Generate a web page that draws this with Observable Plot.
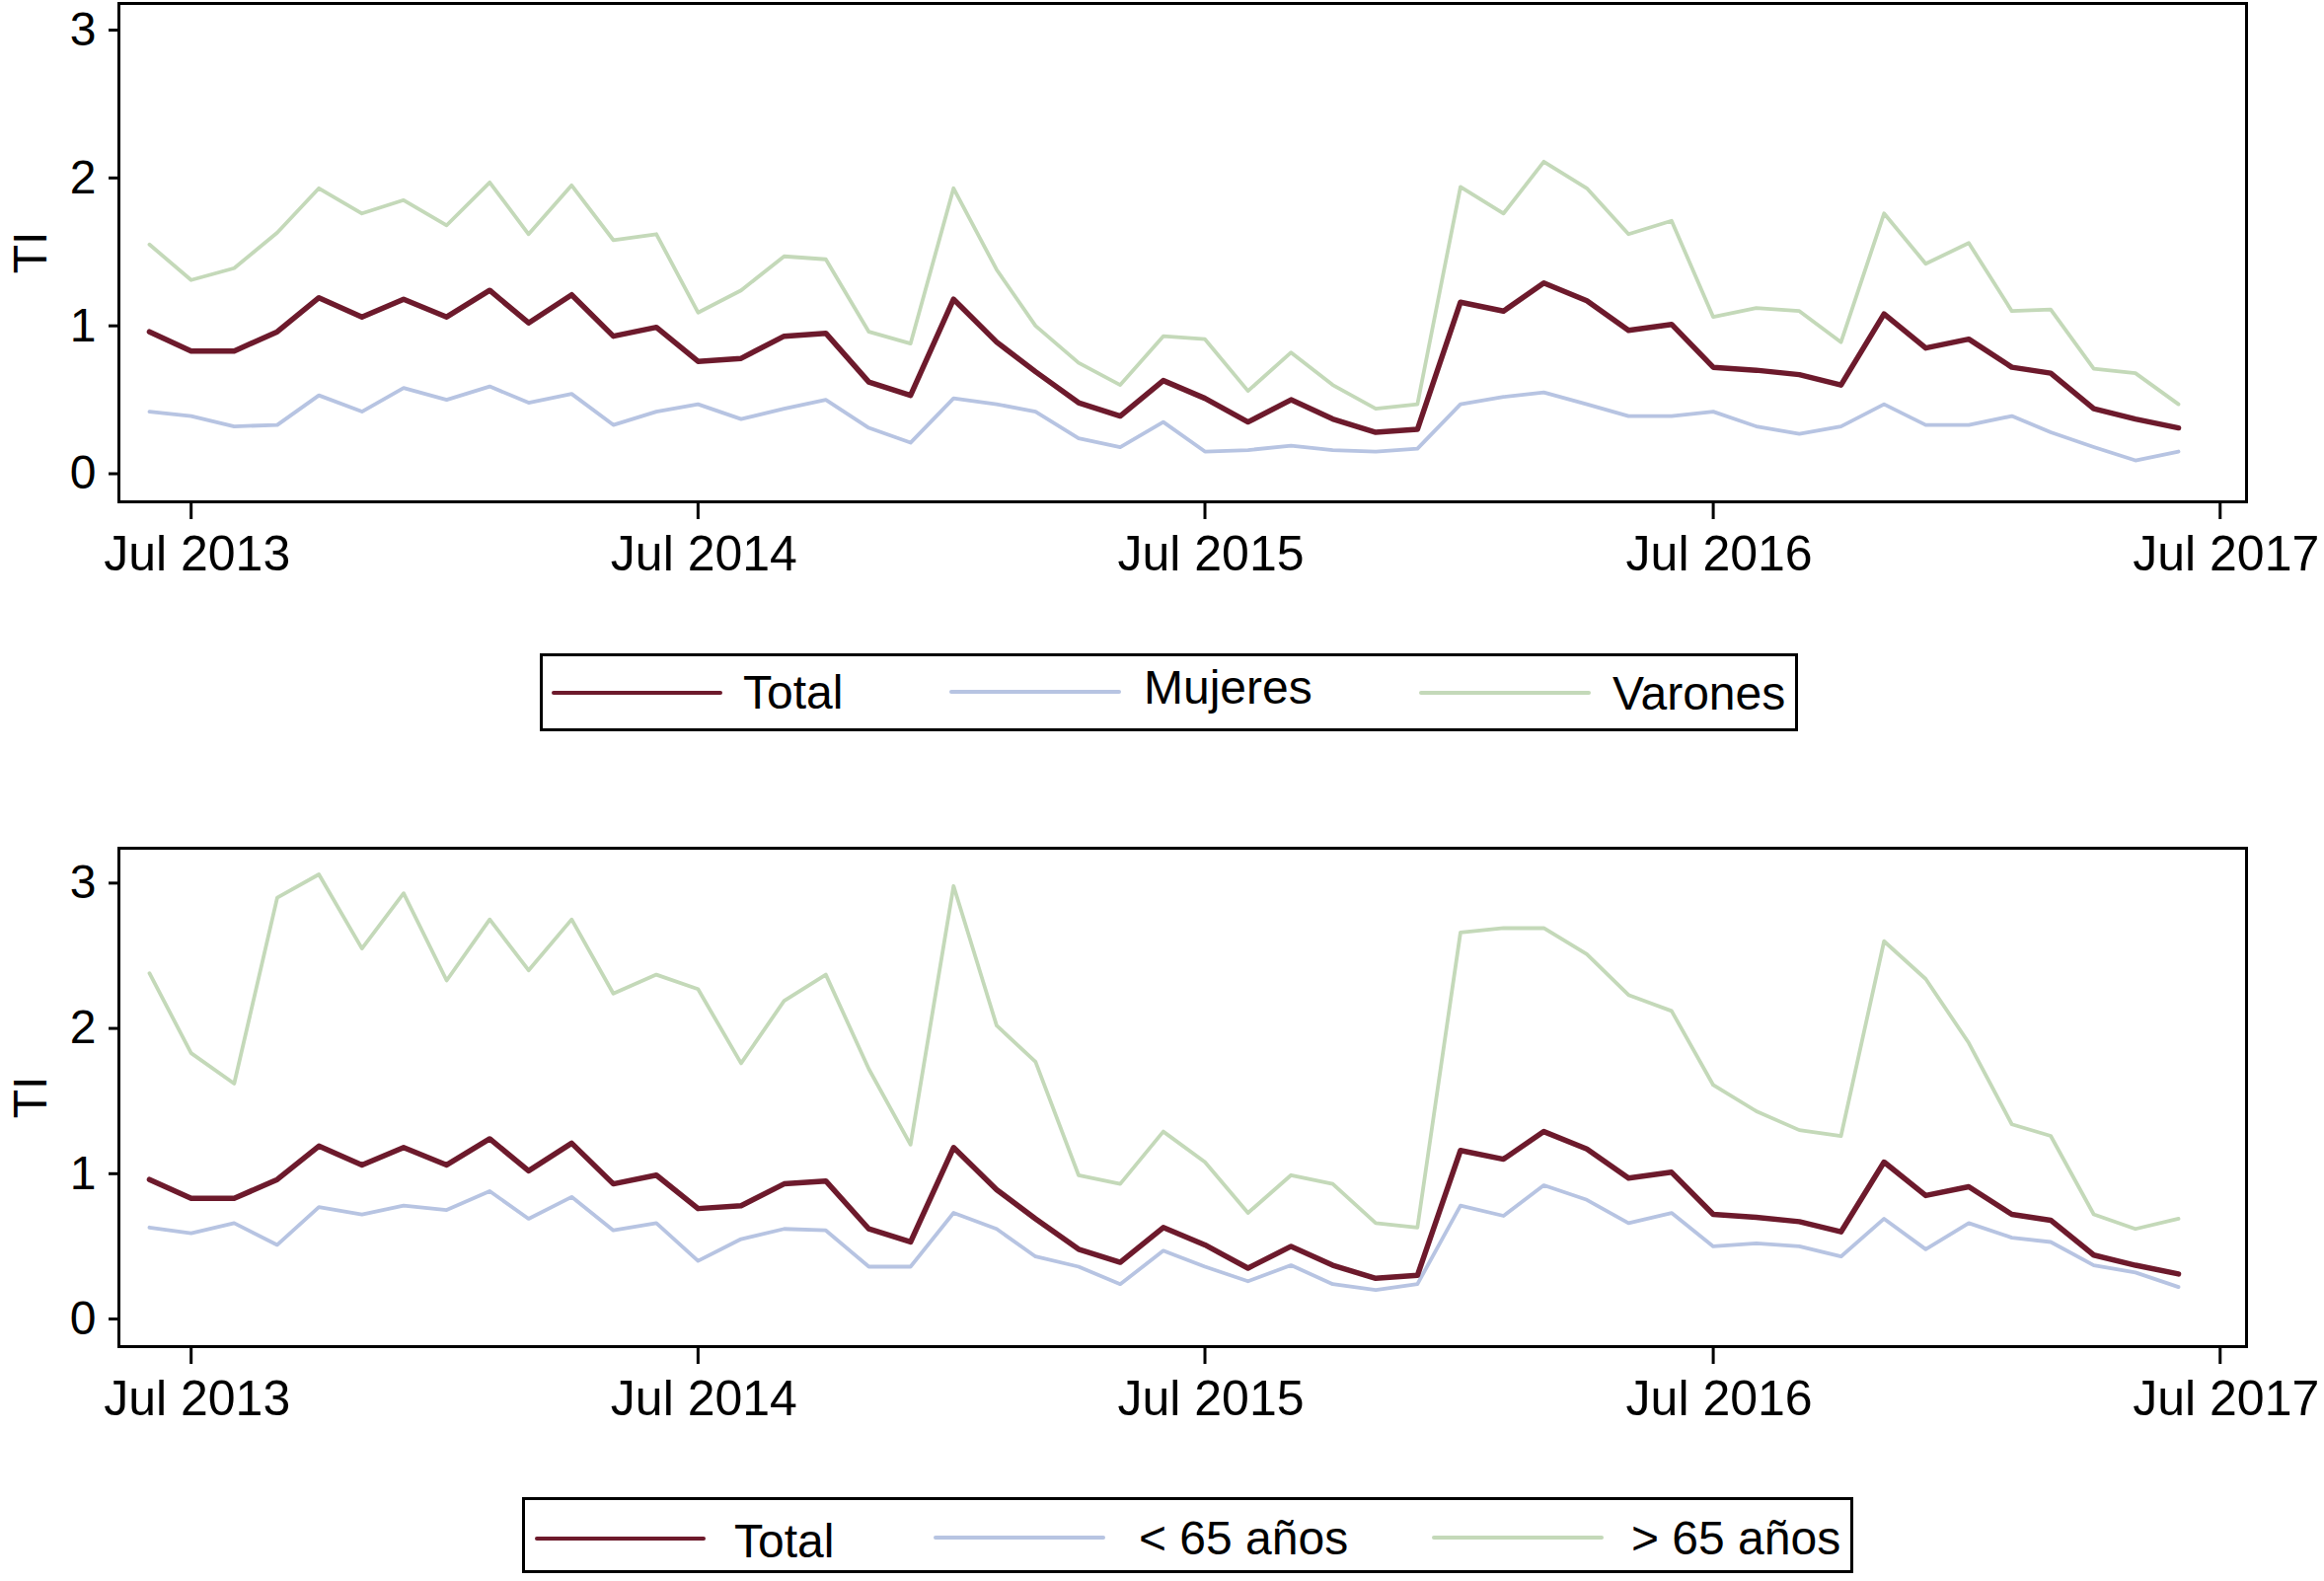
<!DOCTYPE html>
<html><head><meta charset="utf-8">
<script src="https://cdn.jsdelivr.net/npm/d3@7"></script>
<script src="https://cdn.jsdelivr.net/npm/@observablehq/plot@0.6"></script>
<style>
html,body{margin:0;padding:0;background:#fff;}
#root{position:relative;width:2355px;height:1602px;overflow:hidden;font-family:"Liberation Sans",Arial,Helvetica,sans-serif;background:#fff;}
.panel{position:absolute;left:0;}
.legend{position:absolute;border:3px solid #000;box-sizing:border-box;background:#fff;}
.sw{position:absolute;}
.lb{position:absolute;font-size:48px;line-height:48px;white-space:nowrap;color:#000;}
</style></head><body><div id="root"></div>
<script>
// Months (monthly observations)
const months = [
  "2013-06","2013-07","2013-08","2013-09","2013-10","2013-11","2013-12",
  "2014-01","2014-02","2014-03","2014-04","2014-05","2014-06","2014-07","2014-08","2014-09","2014-10","2014-11","2014-12",
  "2015-01","2015-02","2015-03","2015-04","2015-05","2015-06","2015-07","2015-08","2015-09","2015-10","2015-11","2015-12",
  "2016-01","2016-02","2016-03","2016-04","2016-05","2016-06","2016-07","2016-08","2016-09","2016-10","2016-11","2016-12",
  "2017-01","2017-02","2017-03","2017-04","2017-05","2017-06"
];
// Tasa de incidencia (TI)
const total = [
  0.96,0.83,0.83,0.96,1.19,1.06,1.18,
  1.06,1.24,1.02,1.21,0.93,0.99,0.76,0.78,0.93,0.95,0.62,0.53,
  1.18,0.89,0.69,0.48,0.39,0.63,0.51,0.35,0.50,0.37,0.28,0.30,
  1.16,1.10,1.29,1.17,0.97,1.01,0.72,0.70,0.67,0.60,1.08,0.85,
  0.91,0.72,0.68,0.44,0.37,0.31
];
const mujeres = [
  0.42,0.39,0.32,0.33,0.53,0.42,0.58,
  0.50,0.59,0.48,0.54,0.33,0.42,0.47,0.37,0.44,0.50,0.31,0.21,
  0.51,0.47,0.42,0.24,0.18,0.35,0.15,0.16,0.19,0.16,0.15,0.17,
  0.47,0.52,0.55,0.47,0.39,0.39,0.42,0.32,0.27,0.32,0.47,0.33,
  0.33,0.39,0.28,0.18,0.09,0.15
];
const varones = [
  1.55,1.31,1.39,1.63,1.93,1.76,1.85,
  1.68,1.97,1.62,1.95,1.58,1.62,1.09,1.24,1.47,1.45,0.96,0.88,
  1.93,1.38,1.00,0.75,0.60,0.93,0.91,0.56,0.82,0.60,0.44,0.47,
  1.94,1.76,2.11,1.93,1.62,1.71,1.06,1.12,1.10,0.89,1.76,1.42,
  1.56,1.10,1.11,0.71,0.68,0.47
];
const menores65 = [
  0.63,0.59,0.66,0.51,0.77,0.72,0.78,
  0.75,0.88,0.69,0.84,0.61,0.66,0.40,0.55,0.62,0.61,0.36,0.36,
  0.73,0.62,0.43,0.36,0.24,0.47,0.36,0.26,0.37,0.24,0.20,0.24,
  0.78,0.71,0.92,0.82,0.66,0.73,0.50,0.52,0.50,0.43,0.69,0.48,
  0.66,0.56,0.53,0.37,0.32,0.22
];
const mayores65 = [
  2.38,1.83,1.62,2.90,3.06,2.55,2.93,
  2.33,2.75,2.40,2.75,2.24,2.37,2.27,1.76,2.19,2.37,1.72,1.20,
  2.98,2.02,1.77,0.99,0.93,1.29,1.08,0.73,0.99,0.93,0.66,0.63,
  2.66,2.69,2.69,2.51,2.23,2.12,1.61,1.43,1.30,1.26,2.60,2.34,
  1.90,1.34,1.26,0.72,0.62,0.69
];
const xTicks = ["2013-07","2014-07","2015-07","2016-07","2017-07"];
const xTickLabels = ["Jul 2013","Jul 2014","Jul 2015","Jul 2016","Jul 2017"];
const yTicks = [0,1,2,3];
const legendTop = ["Total","Mujeres","Varones"];
const legendBottom = ["Total","< 65 años","> 65 años"];

const C_TOTAL = "#6d1a2c", C_BLUE = "#b7c4e2", C_GREEN = "#c4d9b9";
const FONT = "'Liberation Sans', Arial, Helvetica, sans-serif";
const toDate = s => new Date(s + "-01T00:00:00Z");
const xTickDates = xTicks.map(toDate);
const xDomain = [new Date(Date.UTC(2013,4,10)), new Date(Date.UTC(2017,6,20))];
const rows = vals => months.map((m,i) => ({date: toDate(m), v: vals[i]}));

const root = document.getElementById("root");

function panel(series, yDomain, top, mTop, h) {
  const svg = Plot.plot({
    width: 2355, height: h,
    marginLeft: 120, marginRight: 79, marginTop: mTop, marginBottom: 92,
    x: {type: "utc", domain: xDomain},
    y: {domain: yDomain},
    style: {fontSize: "48px", fontFamily: FONT, color: "#000", background: "transparent", overflow: "visible"},
    marks: [
      ...series.map(s => Plot.line(rows(s.values), {x: "date", y: "v", stroke: s.color, strokeWidth: s.w})),
      Plot.frame({stroke: "#000", strokeWidth: 3}),
      Plot.axisX({ticks: xTickDates, tickSize: 18, strokeWidth: 3, text: null, label: null}),
      Plot.axisX({ticks: xTickDates, tickFormat: d => xTickLabels[xTickDates.findIndex(t => +t === +d)],
                  tickSize: 0, tickPadding: 34, dx: 6, fontSize: 50, label: null}),
      Plot.axisY({ticks: yTicks, tickFormat: d => String(d), tickSize: 10, tickPadding: 13, strokeWidth: 3,
                  label: "TI", labelAnchor: "center", labelArrow: "none", labelOffset: 108})
    ]
  });
  svg.classList.add("panel");
  svg.style.top = top + "px";
  root.appendChild(svg);
}

panel([
  {values: varones, color: C_GREEN, w: 3.8},
  {values: mujeres, color: C_BLUE, w: 3.8},
  {values: total, color: C_TOTAL, w: 5.5}
], [-0.19, 3.18], 0, 3, 600);

panel([
  {values: mayores65, color: C_GREEN, w: 3.8},
  {values: menores65, color: C_BLUE, w: 3.8},
  {values: total, color: C_TOTAL, w: 5.5}
], [-0.19, 3.24], 850, 9, 606);

function legend(box, items) {
  const d = document.createElement("div");
  d.className = "legend";
  Object.assign(d.style, {left: box.x + "px", top: box.y + "px", width: box.w + "px", height: box.h + "px"});
  const ox = box.x + 3, oy = box.y + 3;
  items.forEach(it => {
    const l = document.createElement("div");
    l.className = "sw";
    Object.assign(l.style, {left: (it.x0 - ox) + "px", width: (it.x1 - it.x0) + "px",
      top: (it.ly - it.w / 2 - oy) + "px", height: it.w + "px", background: it.color, borderRadius: "2px"});
    d.appendChild(l);
    const t = document.createElement("div");
    t.className = "lb";
    t.textContent = it.label;
    Object.assign(t.style, {left: (it.tx - ox) + "px", top: (it.base - 40.6 - oy) + "px"});
    d.appendChild(t);
  });
  root.appendChild(d);
}

legend({x: 547, y: 662, w: 1275, h: 79}, [
  {label: legendTop[0], color: C_TOTAL, w: 4.5, x0: 559, x1: 732, ly: 702, tx: 753, base: 719},
  {label: legendTop[1], color: C_BLUE, w: 4, x0: 962, x1: 1136, ly: 701, tx: 1159, base: 714},
  {label: legendTop[2], color: C_GREEN, w: 4, x0: 1438, x1: 1612, ly: 702, tx: 1634, base: 720}
]);
legend({x: 529, y: 1517, w: 1349, h: 77}, [
  {label: legendBottom[0], color: C_TOTAL, w: 4.5, x0: 542, x1: 715, ly: 1559, tx: 744, base: 1579},
  {label: legendBottom[1], color: C_BLUE, w: 4, x0: 946, x1: 1120, ly: 1558, tx: 1154, base: 1576},
  {label: legendBottom[2], color: C_GREEN, w: 4, x0: 1451, x1: 1625, ly: 1558, tx: 1653, base: 1576}
]);
</script></body></html>
